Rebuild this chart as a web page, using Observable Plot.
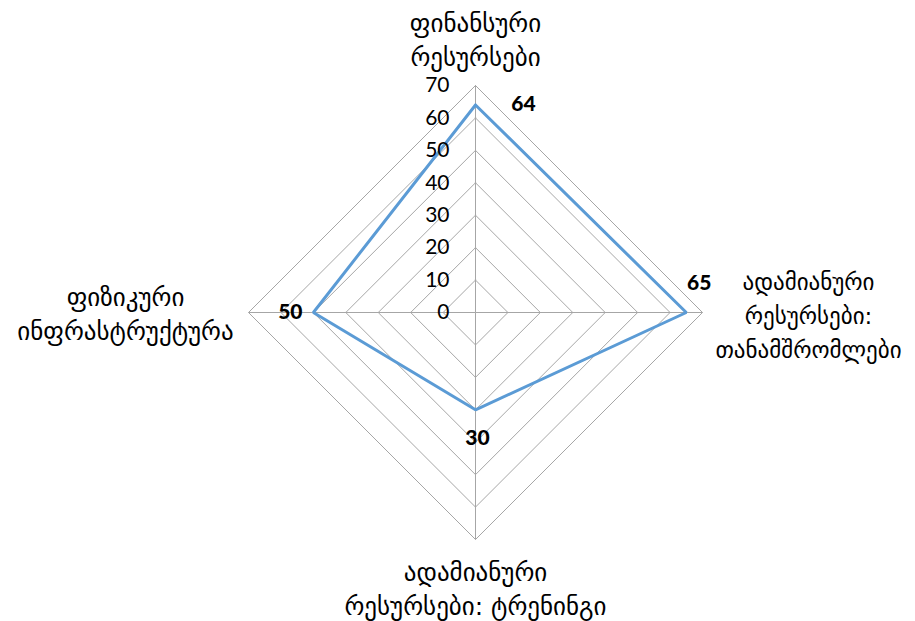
<!DOCTYPE html>
<html>
<head>
<meta charset="utf-8">
<script src="https://cdn.jsdelivr.net/npm/d3@7"></script>
<script src="https://cdn.jsdelivr.net/npm/@observablehq/plot@0.6"></script>
<style>
  html, body { margin: 0; padding: 0; background: #fff; }
  #chart { width: 915px; height: 621px; }
</style>
</head>
<body>
<div id="chart"></div>
<script>
const categories = [
  "ფინანსური\nრესურსები",
  "ადამიანური\nრესურსები:\nთანამშრომლები",
  "ადამიანური\nრესურსები: ტრენინგი",
  "ფიზიკური\nინფრასტრუქტურა"
];
const values = [64, 65, 30, 50];
const ticks = [0, 10, 20, 30, 40, 50, 60, 70];
const maxValue = 70;

// layout helpers (not data)
const W = 915, H = 621, cx = 475, cy = 312, R = 227;
const k = R / maxValue;
const angles = categories.map((_, i) => -Math.PI / 2 + i * 2 * Math.PI / categories.length);
const pt = (v, i) => ({ x: v * Math.cos(angles[i]), y: -v * Math.sin(angles[i]) });

const valueOffsets = [[48, -1], [13, -29], [2, 28], [-23, 0]];
const catOffsets = [[0, -47], [106, 1], [0, 48], [-123, 0]];
const catSizes = [25, 23, 25, 25];

const gridRows = [];
ticks.filter(t => t > 0).forEach(t => {
  categories.forEach((_, i) => gridRows.push({ level: t, ...pt(t, i) }));
  gridRows.push({ level: t, ...pt(t, 0) });
});
const spokes = categories.map((_, i) => ({ x1: 0, y1: 0, x2: pt(maxValue, i).x, y2: pt(maxValue, i).y }));
const seriesRows = values.map((v, i) => ({ value: v, ...pt(v, i) }));
seriesRows.push({ ...seriesRows[0] });
const valueLabels = values.map((v, i) => ({ label: String(v), ...pt(v, i), dx: valueOffsets[i][0], dy: valueOffsets[i][1] }));
const catLabels = categories.map((c, i) => ({ label: c, ...pt(maxValue, i), dx: catOffsets[i][0], dy: catOffsets[i][1], size: catSizes[i] }));
const tickLabels = ticks.map(t => ({ label: String(t), x: 0, y: t }));

const font = "Lato, 'DejaVu Sans', sans-serif";
const geoFont = "'DejaVu Sans', sans-serif";

const chart = Plot.plot({
  width: W, height: H,
  margin: 0,
  style: { fontFamily: font, background: "#fff" },
  x: { domain: [-cx / k, (W - cx) / k], axis: null },
  y: { domain: [-(H - cy) / k, cy / k], axis: null },
  marks: [
    Plot.line(gridRows, { x: "x", y: "y", z: "level", stroke: "#a6a6a6", strokeWidth: 1, curve: "linear" }),
    Plot.link(spokes, { x1: "x1", y1: "y1", x2: "x2", y2: "y2", stroke: "#a6a6a6", strokeWidth: 1 }),
    Plot.line(seriesRows, { x: "x", y: "y", stroke: "#5b9bd5", strokeWidth: 3, strokeLinejoin: "miter" }),
    Plot.text(tickLabels, { x: "x", y: "y", text: "label", textAnchor: "end", dx: -26, fontSize: 21, fill: "#000" }),
    ...valueLabels.map(d => Plot.text([d], { x: "x", y: "y", text: "label", dx: d.dx, dy: d.dy, fontSize: 21, fontWeight: 900, fill: "#000" })),
    ...catLabels.map(d => Plot.text([d], { x: "x", y: "y", text: "label", dx: d.dx, dy: d.dy, fontSize: d.size, lineHeight: 34 / d.size, lineAnchor: "middle", textAnchor: "middle", fontFamily: geoFont, fill: "#000" }))
  ]
});
document.getElementById("chart").appendChild(chart);
</script>
</body>
</html>
